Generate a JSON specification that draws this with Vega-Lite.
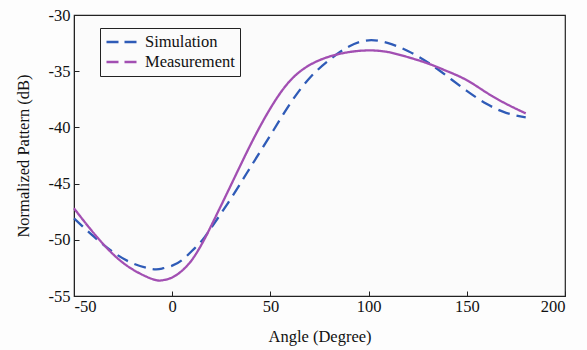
{
  "$schema": "https://vega.github.io/schema/vega-lite/v6.json",
  "width": 491,
  "height": 281,
  "autosize": "none",
  "padding": {"left": 74, "top": 15, "right": 22, "bottom": 54},
  "background": "#fdfdfd",
  "config": {
    "view": {"stroke": "#222222", "strokeWidth": 1.2, "fill": "#fbfbfb"},
    "font": "Liberation Serif",
    "axis": {
      "grid": false,
      "domainColor": "#222222",
      "tickColor": "#222222",
      "labelFont": "Liberation Serif",
      "titleFont": "Liberation Serif",
      "labelFontSize": 16.5,
      "titleFontSize": 16.5,
      "labelColor": "#111111",
      "titleColor": "#111111",
      "titleFontWeight": "normal",
      "labelExpr": "datum.value < 0 ? '-' + abs(datum.value) : '' + datum.value"
    }
  },
  "data": {
    "values": [
      {"angle": -50, "dB": -48.1, "series": "Simulation"},
      {"angle": -40, "dB": -49.7, "series": "Simulation"},
      {"angle": -30, "dB": -51.1, "series": "Simulation"},
      {"angle": -20, "dB": -52.1, "series": "Simulation"},
      {"angle": -10, "dB": -52.6, "series": "Simulation"},
      {"angle": -5, "dB": -52.55, "series": "Simulation"},
      {"angle": 0, "dB": -52.3, "series": "Simulation"},
      {"angle": 5, "dB": -51.8, "series": "Simulation"},
      {"angle": 10, "dB": -51.0, "series": "Simulation"},
      {"angle": 15, "dB": -50.1, "series": "Simulation"},
      {"angle": 20, "dB": -48.9, "series": "Simulation"},
      {"angle": 30, "dB": -46.3, "series": "Simulation"},
      {"angle": 40, "dB": -43.5, "series": "Simulation"},
      {"angle": 50, "dB": -40.7, "series": "Simulation"},
      {"angle": 60, "dB": -37.9, "series": "Simulation"},
      {"angle": 70, "dB": -35.6, "series": "Simulation"},
      {"angle": 80, "dB": -34.0, "series": "Simulation"},
      {"angle": 90, "dB": -32.8, "series": "Simulation"},
      {"angle": 100, "dB": -32.25, "series": "Simulation"},
      {"angle": 110, "dB": -32.5, "series": "Simulation"},
      {"angle": 120, "dB": -33.2, "series": "Simulation"},
      {"angle": 130, "dB": -34.2, "series": "Simulation"},
      {"angle": 140, "dB": -35.45, "series": "Simulation"},
      {"angle": 150, "dB": -36.75, "series": "Simulation"},
      {"angle": 160, "dB": -37.9, "series": "Simulation"},
      {"angle": 170, "dB": -38.7, "series": "Simulation"},
      {"angle": 180, "dB": -39.1, "series": "Simulation"},
      {"angle": -50, "dB": -47.2, "series": "Measurement"},
      {"angle": -40, "dB": -49.4, "series": "Measurement"},
      {"angle": -30, "dB": -51.3, "series": "Measurement"},
      {"angle": -20, "dB": -52.65, "series": "Measurement"},
      {"angle": -10, "dB": -53.5, "series": "Measurement"},
      {"angle": -5, "dB": -53.6, "series": "Measurement"},
      {"angle": 0, "dB": -53.35, "series": "Measurement"},
      {"angle": 5, "dB": -52.75, "series": "Measurement"},
      {"angle": 10, "dB": -51.8, "series": "Measurement"},
      {"angle": 15, "dB": -50.4, "series": "Measurement"},
      {"angle": 20, "dB": -48.7, "series": "Measurement"},
      {"angle": 30, "dB": -45.1, "series": "Measurement"},
      {"angle": 40, "dB": -41.5, "series": "Measurement"},
      {"angle": 50, "dB": -38.3, "series": "Measurement"},
      {"angle": 60, "dB": -35.85, "series": "Measurement"},
      {"angle": 70, "dB": -34.45, "series": "Measurement"},
      {"angle": 80, "dB": -33.7, "series": "Measurement"},
      {"angle": 90, "dB": -33.3, "series": "Measurement"},
      {"angle": 100, "dB": -33.15, "series": "Measurement"},
      {"angle": 110, "dB": -33.3, "series": "Measurement"},
      {"angle": 120, "dB": -33.75, "series": "Measurement"},
      {"angle": 130, "dB": -34.3, "series": "Measurement"},
      {"angle": 140, "dB": -35.0, "series": "Measurement"},
      {"angle": 150, "dB": -35.8, "series": "Measurement"},
      {"angle": 160, "dB": -36.9, "series": "Measurement"},
      {"angle": 170, "dB": -37.9, "series": "Measurement"},
      {"angle": 180, "dB": -38.75, "series": "Measurement"}
    ]
  },
  "mark": {"type": "line", "interpolate": "natural", "strokeWidth": 2.3},
  "encoding": {
    "x": {
      "field": "angle",
      "type": "quantitative",
      "scale": {"domain": [-50, 200], "nice": false},
      "axis": {"title": "Angle (Degree)", "values": [-50, 0, 50, 100, 150, 200], "tickSize": -5, "labelPadding": 7, "titlePadding": 14}
    },
    "y": {
      "field": "dB",
      "type": "quantitative",
      "scale": {"domain": [-55, -30], "nice": false, "zero": false},
      "axis": {"title": "Normalized Pattern (dB)", "values": [-55, -50, -45, -40, -35, -30], "tickSize": -5, "labelPadding": 9, "titlePadding": 17}
    },
    "color": {
      "field": "series",
      "type": "nominal",
      "scale": {"domain": ["Simulation", "Measurement"], "range": ["#2f5bb7", "#a24fb2"]},
      "legend": {
        "title": null,
        "orient": "none",
        "legendX": 26,
        "legendY": 13,
        "symbolType": "M-1,0H3",
        "symbolDash": [12, 6],
        "symbolStrokeWidth": 2.5,
        "symbolSize": 225,
        "labelFont": "Liberation Serif",
        "labelFontSize": 16.5,
        "labelColor": "#111111",
        "labelOffset": 22,
        "labelExpr": "datum.label + '\u2003\u2003'",
        "strokeColor": "#222222",
        "fillColor": "#fbfbfb",
        "padding": 5,
        "rowPadding": 2
      }
    },
    "strokeDash": {
      "condition": {"test": "datum.series === 'Simulation'", "value": [12, 7]},
      "value": [1, 0]
    }
  }
}
